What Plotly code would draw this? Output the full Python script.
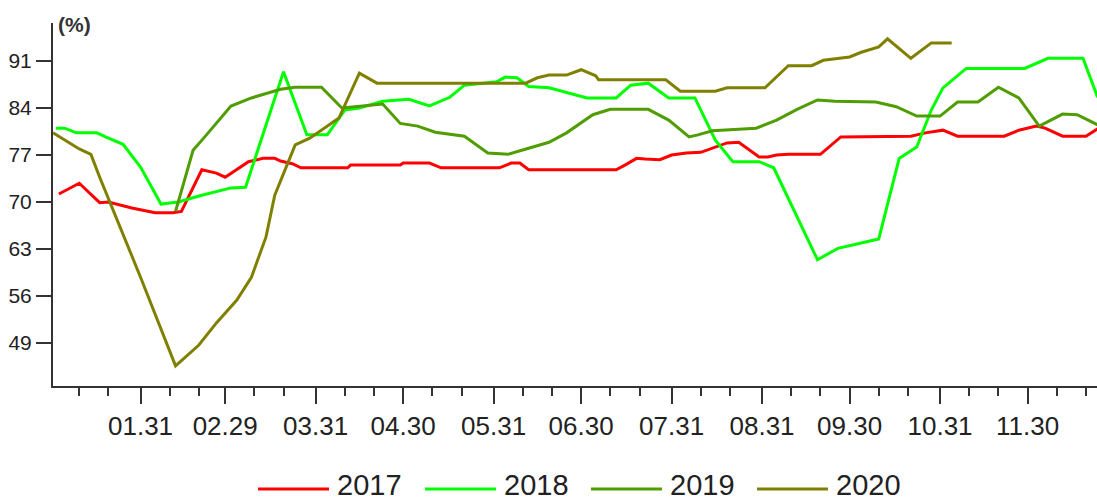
import plotly.graph_objects as go

# ---------------- data (x = date within the year, y = %) ----------------
d2017 = ["01-03","01-10","01-17","01-20","01-28","02-02","02-05","02-11","02-14","02-21",
         "02-26","02-29","03-08","03-13","03-17","03-19","03-23","03-26","04-11","04-12",
         "04-29","04-30","05-09","05-13","06-02","06-06","06-09","06-12","07-12","07-15",
         "07-19","07-22","07-27","07-31","08-05","08-10","08-14","08-19","08-23","08-26",
         "08-30","09-02","09-05","09-09","09-20","09-27","10-21","10-26","11-01","11-06",
         "11-22","11-27","12-03","12-06","12-12","12-20","12-24"]
v2017 = [71.2,72.8,69.9,70.0,69.1,68.7,68.4,68.4,68.6,74.8,
         74.3,73.7,76.0,76.5,76.5,76.1,75.7,75.1,75.1,75.5,
         75.5,75.8,75.8,75.1,75.1,75.8,75.8,74.8,74.8,75.5,
         76.5,76.4,76.3,77.0,77.3,77.4,78.0,78.8,78.9,78.0,
         76.7,76.7,77.0,77.1,77.1,79.7,79.8,80.3,80.7,79.8,
         79.8,80.7,81.3,81.0,79.8,79.8,80.9]

d2018 = ["01-02","01-05","01-09","01-16","01-19","01-25","01-31","02-06","02-07","02-10",
         "02-13","02-20","02-26","03-02","03-07","03-20","03-28","04-04","04-10","04-15",
         "04-23","05-02","05-09","05-16","05-21","06-01","06-04","06-08","06-12","06-19",
         "07-02","07-12","07-17","07-23","07-30","08-08","08-15","08-21","08-30","09-04",
         "09-19","09-26","10-04","10-10","10-17","10-23","10-28","11-01","11-09","11-29",
         "12-07","12-19","12-24"]
v2018 = [81.0,81.0,80.3,80.3,79.7,78.6,75.2,70.3,69.7,69.85,
         70.0,70.9,71.5,72.1,72.2,89.4,80.0,80.0,83.7,84.0,
         85.0,85.3,84.3,85.6,87.4,87.9,88.6,88.5,87.2,87.0,
         85.5,85.5,87.4,87.7,85.5,85.5,79.2,76.0,76.0,75.1,
         61.4,63.1,63.9,64.5,76.5,78.2,83.7,87.0,89.9,89.9,
         91.4,91.4,85.6]

d2019 = ["02-12","02-18","02-22","03-02","03-09","03-19","03-24","04-02","04-09","04-15",
         "04-23","04-29","05-05","05-11","05-21","05-29","06-05","06-12","06-19","06-25",
         "07-04","07-10","07-23","07-30","08-06","08-09","08-14","08-29","09-05","09-12",
         "09-19","09-25","10-09","10-16","10-23","10-31","11-06","11-13","11-20","11-27",
         "12-04","12-12","12-17","12-24"]
v2019 = [68.6,77.7,79.7,84.3,85.5,86.8,87.1,87.1,84.0,84.3,
         84.6,81.7,81.3,80.4,79.8,77.3,77.1,78.0,78.9,80.3,
         83.0,83.8,83.8,82.2,79.7,80.0,80.6,81.0,82.2,83.8,
         85.2,85.0,84.9,84.2,82.8,82.8,84.9,84.9,87.1,85.5,
         81.3,83.1,83.0,81.5]

d2020 = ["01-01","01-10","01-14","01-17","01-31","02-12","02-20","02-26","03-04","03-09",
         "03-14","03-17","03-24","03-29","04-08","04-15","04-21","06-11","06-15","06-19",
         "06-25","06-30","07-05","07-06","07-29","08-03","08-15","08-19","09-01","09-05",
         "09-09","09-17","09-21","09-30","10-04","10-10","10-13","10-21","10-28","11-04"]
v2020 = [80.3,77.9,77.1,73.7,58.8,45.6,48.7,52.0,55.4,58.8,
         64.8,71.0,78.5,79.5,82.5,89.2,87.7,87.7,88.5,88.9,
         88.9,89.7,88.8,88.2,88.2,86.5,86.5,87.0,87.0,88.7,
         90.3,90.3,91.1,91.6,92.3,93.1,94.3,91.4,93.7,93.7]

series_names = ["2017", "2018", "2019", "2020"]
series_dates = [d2017, d2018, d2019, d2020]
series_vals = [v2017, v2018, v2019, v2020]
series_colors = ["#FF0000", "#00FF00", "#4F9D00", "#808000"]

major_ticks = ["01-31","02-29","03-31","04-30","05-31","06-30","07-31","08-31","09-30","10-31","11-30"]
major_labels = ["01.31","02.29","03.31","04.30","05.31","06.30","07.31","08.31","09.30","10.31","11.30"]
minor_ticks = [f"{m:02d}-{d}" for m in range(1, 13) for d in (10, 20)]
y_ticks = [49, 56, 63, 70, 77, 84, 91]

YEAR = "2020-"
FONT = "Liberation Sans"
TXT = "#222222"

W, H = 1097, 501
ML, MR, MT, MB = 53, 0, 23, 115
PW, PH = W - ML - MR, H - MT - MB


def px_x(px):
    return (px - ML) / PW


def px_y(py):
    return (H - MB - py) / PH


fig = go.Figure()
for name, ds, vs, col in zip(series_names, series_dates, series_vals, series_colors):
    fig.add_trace(go.Scatter(
        x=[YEAR + d for d in ds], y=vs, mode="lines", name=name,
        line=dict(color=col, width=3), showlegend=False))

# manual legend (long line samples like the original)
leg_line_x = [258, 425, 591, 757]
for name, col, lx in zip(series_names, series_colors, leg_line_x):
    fig.add_shape(type="line", xref="paper", yref="paper",
                  x0=px_x(lx), x1=px_x(lx + 71), y0=px_y(489), y1=px_y(489),
                  line=dict(color=col, width=3))
    fig.add_annotation(text=name, xref="paper", yref="paper",
                       x=px_x(lx + 77), y=px_y(485), xanchor="left", yanchor="middle",
                       showarrow=False, font=dict(family=FONT, size=29, color=TXT))

fig.add_annotation(text="<b>(%)</b>", xref="paper", yref="paper",
                   x=px_x(56), y=px_y(25), xanchor="left", yanchor="middle",
                   showarrow=False, font=dict(family=FONT, size=21, color="#333333"))

fig.update_layout(
    width=W, height=H,
    margin=dict(l=ML, r=MR, t=MT, b=MB, pad=0, autoexpand=False),
    paper_bgcolor="white", plot_bgcolor="white",
    showlegend=False,
    xaxis=dict(
        type="date",
        automargin=False,
        range=["2020-01-01", "2020-12-23 19:00"],
        tickmode="array",
        tickvals=[YEAR + t for t in major_ticks],
        ticktext=major_labels,
        ticks="outside", ticklen=16, tickwidth=2, tickcolor="#333333",
        showline=True, linecolor="#333333", linewidth=2,
        showgrid=False, zeroline=False,
        tickfont=dict(family=FONT, size=26, color=TXT),
        minor=dict(tickmode="array", tickvals=[YEAR + t for t in minor_ticks],
                   ticks="outside", ticklen=8, tickwidth=2, tickcolor="#333333",
                   showgrid=False),
    ),
    yaxis=dict(
        automargin=False,
        range=[42.6, 96.66],
        tickmode="array", tickvals=y_ticks,
        ticks="outside", ticklen=15, tickwidth=2, tickcolor="#333333",
        showline=True, linecolor="#333333", linewidth=2,
        showgrid=False, zeroline=False,
        tickfont=dict(family=FONT, size=21, color=TXT),
    ),
)

fig.write_html("out.html",
               config={"displayModeBar": False},
               post_script="document.body.style.margin='0';document.body.style.overflow='hidden';")
